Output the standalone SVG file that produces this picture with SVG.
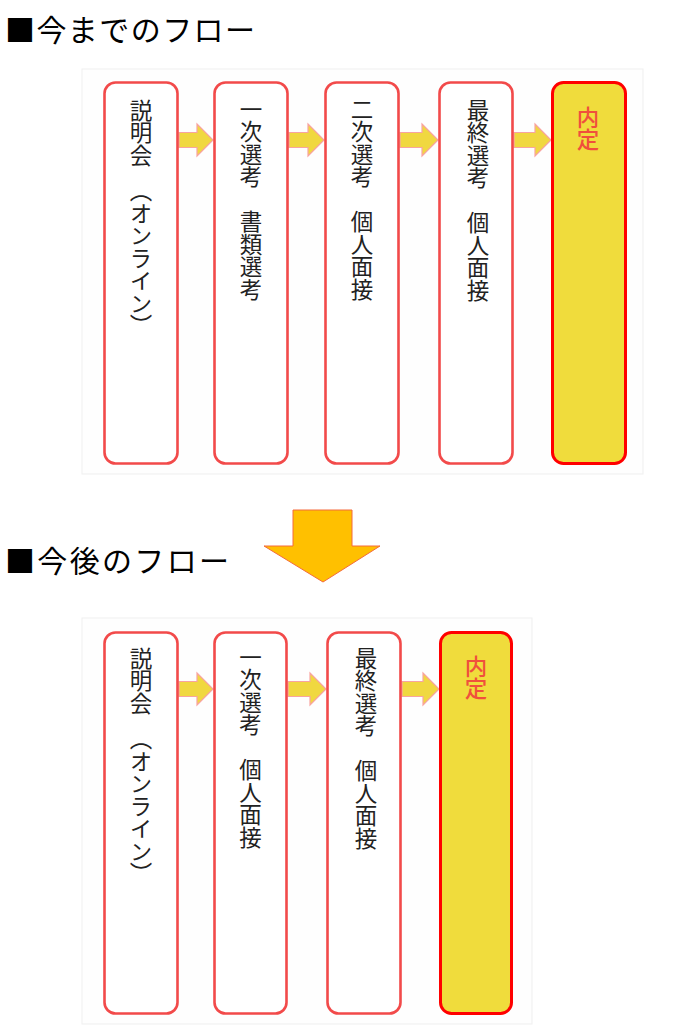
<svg xmlns="http://www.w3.org/2000/svg" width="697" height="1025" viewBox="0 0 697 1025">
<style>
.title{font-family:"Noto Sans CJK JP","Noto Sans CJK SC",sans-serif;font-size:30px;fill:#000}
.panel{fill:#FEFEFE;stroke:#EFEFEF;stroke-width:1}
.box{fill:#FFFFFF;stroke:#F24A4A;stroke-width:2.6}
.goal{fill:#F0DC3C;stroke:#FF0000;stroke-width:3}
.vt{font-family:"Noto Sans CJK JP","Noto Sans CJK SC",sans-serif;font-size:22.5px;fill:#222222;writing-mode:vertical-rl;text-orientation:mixed}
.vt-goal{fill:#F0503C;font-weight:500}
.arr{fill:#F0D840;stroke:#F8A4A0;stroke-width:1.2;stroke-linejoin:miter}
.big{fill:#FFC000;stroke:#F46B3C;stroke-width:1}
</style>
<rect width="697" height="1025" fill="#FFFFFF"/>
<text class="title" x="5" y="41" textLength="250" lengthAdjust="spacing">■今までのフロー</text>
<text class="title" x="5" y="572" textLength="224" lengthAdjust="spacing">■今後のフロー</text>
<rect class="panel" x="82" y="69" width="561" height="405"/>
<rect class="panel" x="82" y="618" width="450" height="406"/>
<g id="connectors">
<polygon class="arr" points="179,132.5 197,132.5 197,124 213,140 197,156 197,147.5 179,147.5"/>
<polygon class="arr" points="289,132.5 308,132.5 308,124 324,140 308,156 308,147.5 289,147.5"/>
<polygon class="arr" points="400,132.5 422,132.5 422,124 438,140 422,156 422,147.5 400,147.5"/>
<polygon class="arr" points="514,132.5 535,132.5 535,124 551,140 535,156 535,147.5 514,147.5"/>
<polygon class="arr" points="179,681.5 197,681.5 197,673 213,689 197,705 197,696.5 179,696.5"/>
<polygon class="arr" points="288,681.5 310,681.5 310,673 326,689 310,705 310,696.5 288,696.5"/>
<polygon class="arr" points="402,681.5 423,681.5 423,673 439,689 423,705 423,696.5 402,696.5"/>
<polygon class="big" points="293,510 352,510 352,546 380,546 323,582 264,546 293,546"/>
</g>
<g id="old-setsumeikai"><rect class="box" x="104.5" y="82.5" width="73" height="381" rx="11"/><text class="vt" x="141" y="99">説明会<tspan y="179">（オンライン）</tspan></text></g>
<g id="old-ichiji"><rect class="box" x="214.5" y="82.5" width="73" height="381" rx="11"/><text class="vt" x="251" y="98">一次選考　書類選考</text></g>
<g id="old-niji"><rect class="box" x="325.5" y="82.5" width="73" height="381" rx="11"/><text class="vt" x="362" y="98">二次選考　個人面接</text></g>
<g id="old-saishu"><rect class="box" x="439.5" y="82.5" width="73" height="381" rx="11"/><text class="vt" x="478" y="99">最終選考　個人面接</text></g>
<g id="old-naitei"><rect class="goal" x="552.5" y="82.5" width="73" height="381" rx="11"/><text class="vt vt-goal" x="588" y="106">内定</text></g>
<g id="new-setsumeikai"><rect class="box" x="104.5" y="632.5" width="73" height="381" rx="11"/><text class="vt" x="141" y="647">説明会<tspan y="727">（オンライン）</tspan></text></g>
<g id="new-ichiji"><rect class="box" x="214.5" y="632.5" width="72" height="381" rx="11"/><text class="vt" x="250.5" y="646">一次選考　個人面接</text></g>
<g id="new-saishu"><rect class="box" x="327.5" y="632.5" width="73" height="381" rx="11"/><text class="vt" x="366" y="647">最終選考　個人面接</text></g>
<g id="new-naitei"><rect class="goal" x="440.5" y="632.5" width="71" height="381" rx="11"/><text class="vt vt-goal" x="476" y="655">内定</text></g>
</svg>
